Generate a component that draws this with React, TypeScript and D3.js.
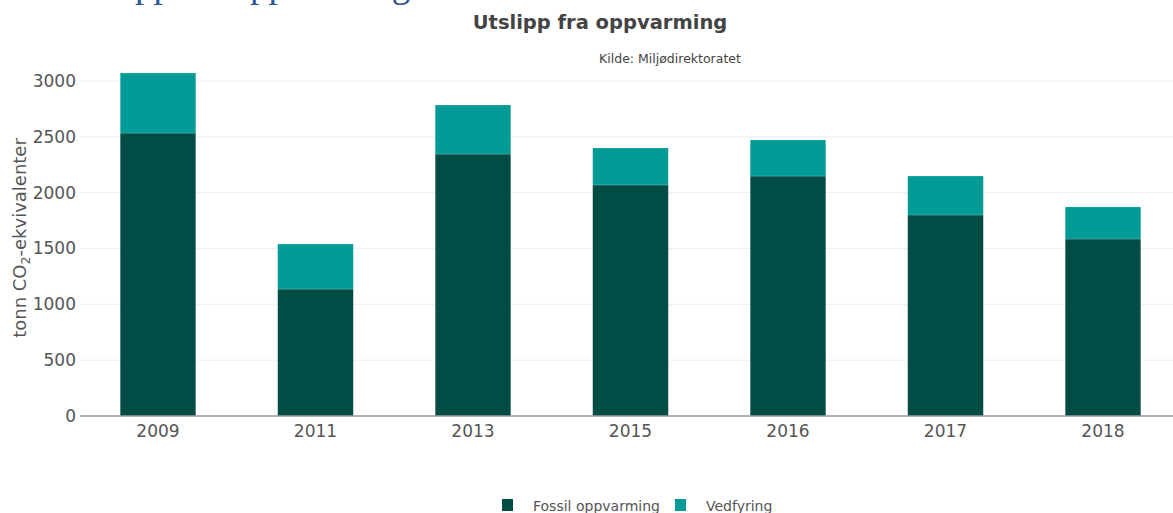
import React from 'react'
import * as d3 from 'd3'

// data
const years = ['2009', '2011', '2013', '2015', '2016', '2017', '2018']
const fossil = [2534, 1137, 2346, 2069, 2149, 1800, 1585]
const vedfyring = [538, 403, 439, 331, 323, 349, 287]
const yTicks = [0, 500, 1000, 1500, 2000, 2500, 3000]
const seriesNames = ['Fossil oppvarming', 'Vedfyring']
const colors = ['#024c46', '#009b96']

const W = 1173
const H = 513
const FONT = 'DejaVu Sans, Verdana, sans-serif'

const App = () => {
  const x = d3.scaleBand()
    .domain(years)
    .range([79.25, 1181.75])
    .paddingInner(0.52)
    .paddingOuter(0.26)

  const y = d3.scaleLinear().domain([0, 3000]).range([416, 81])

  const rows = years.map((yr, i) => ({ year: yr, fossil: fossil[i], ved: vedfyring[i] }))
  const stacked = d3.stack<any>().keys(['fossil', 'ved'])(rows)

  return (
    <svg width={W} height={H} style={{ position: 'absolute', left: 0, top: 0, background: '#fff' }}>
      {/* page heading above the chart, only its descenders show */}
      <text x={63} y={-3} fontFamily="Liberation Serif, serif" fontSize={37} fill="#2f5597">
        Utslipp fra oppvarming
      </text>

      <text x={600} y={29} textAnchor="middle" fontFamily={FONT} fontSize={19.5} fontWeight="bold" fill="#444">
        Utslipp fra oppvarming
      </text>
      <text x={670} y={63} textAnchor="middle" fontFamily={FONT} fontSize={12.5} fill="#444">
        Kilde: Miljødirektoratet
      </text>

      {/* gridlines */}
      {yTicks.filter(t => t > 0).map(t => (
        <line key={t} x1={80} x2={W} y1={y(t)} y2={y(t)} stroke="#eeeeee" strokeWidth={1} />
      ))}

      {/* bars */}
      {stacked.map((s, si) => (
        <g key={si} fill={colors[si]}>
          {s.map((d, i) => (
            <rect key={i}
              x={x(d.data.year)}
              y={y(d[1])}
              width={x.bandwidth()}
              height={y(d[0]) - y(d[1])}
              stroke="rgba(255,255,255,0.35)"
              strokeWidth={0.5}
            />
          ))}
        </g>
      ))}

      {/* axis line */}
      <line x1={80} x2={W} y1={y(0)} y2={y(0)} stroke="#999" strokeWidth={1.5} />

      {/* y tick labels */}
      {yTicks.map(t => (
        <text key={t} x={76} y={y(t)} dy="0.35em" textAnchor="end" fontFamily={FONT} fontSize={17} fill="#555">
          {t}
        </text>
      ))}

      {/* x tick labels */}
      {years.map(yr => (
        <text key={yr} x={(x(yr) as number) + x.bandwidth() / 2} y={437} textAnchor="middle"
          fontFamily={FONT} fontSize={17} fill="#555">
          {yr}
        </text>
      ))}

      {/* y axis title */}
      <text transform={`translate(26,${238}) rotate(-90)`} textAnchor="middle" fontFamily={FONT} fontSize={18} fill="#555">
        tonn CO<tspan fontSize={12.5} dy={4}>2</tspan><tspan dy={-4}>-ekvivalenter</tspan>
      </text>

      {/* legend */}
      {seriesNames.map((name, i) => {
        const lx = i === 0 ? 502 : 675
        return (
          <g key={name}>
            <rect x={lx} y={499} width={11} height={12} fill={colors[i]} />
            <text x={lx + 31} y={511} fontFamily={FONT} fontSize={14} fill="#555">{name}</text>
          </g>
        )
      })}
    </svg>
  )
}

export default App
